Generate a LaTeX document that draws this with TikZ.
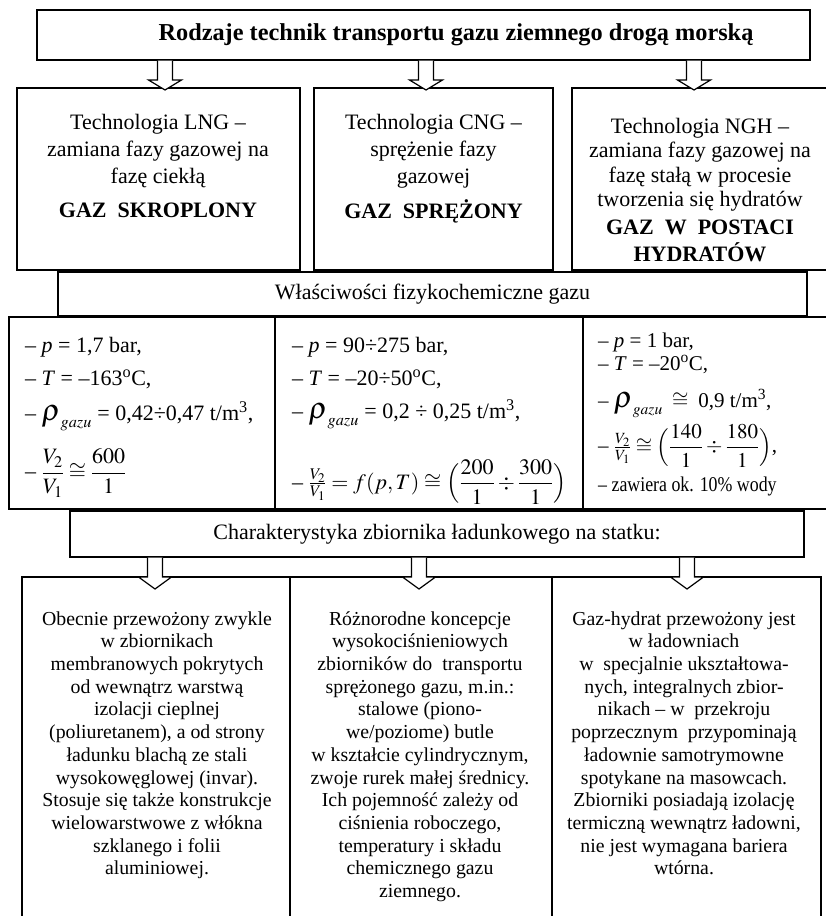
\documentclass[tikz,border=0pt]{standalone}
\usepackage{amsmath}
\usepackage{mathptmx}
\usepackage{graphicx}
\usepackage[no-math]{fontspec}
\setmainfont{Liberation Serif}
\usetikzlibrary{calc}
\newcommand\hollowarrow[5]{%
  \filldraw[blockarrow] let \p1=(#1,0 |- #2.south), \p2=(#1,0 |- #3.north) in
   (\x1-7.5pt,\y1-0.6pt) -- (\x1-7.5pt,\y2-#4pt+#5pt) -- (\x1-16.5pt,\y2-#4pt+#5pt) --
   (\x1,\y2-#4pt) -- (\x1+16.5pt,\y2-#4pt+#5pt) -- (\x1+7.5pt,\y2-#4pt+#5pt) -- (\x1+7.5pt,\y1-0.6pt);}
\newcommand\rhogazu{\text{\fontsize{30}{30}\selectfont$\rho$}_{\mathit{gazu}}}
\begin{document}
\begin{tikzpicture}[x=1pt,y=-1pt,
  frame/.style={draw, line width=1.3pt, inner sep=0pt, outer sep=0pt},
  blockarrow/.style={draw, fill=white, line width=1.2pt, line join=miter},
  toptxt/.style={align=center, inner sep=0pt, anchor=north, font=\fontsize{22}{27}\selectfont},
  toptxtb/.style={align=center, inner sep=0pt, anchor=north, font=\fontsize{22}{24.5}\selectfont},
  boldtxt/.style={align=center, inner sep=0pt, anchor=north, font=\fontsize{22}{25}\bfseries\selectfont},
  prop/.style={anchor=base west, inner sep=0pt, font=\fontsize{22}{26}\selectfont},
  propc/.style={anchor=base west, inner sep=0pt, font=\fontsize{21}{25}\selectfont},
  bottxt/.style={align=center, inner sep=0pt, anchor=north, font=\fontsize{19.8}{22.7}\selectfont}
]
\useasboundingbox (0,0) rectangle (826,916);
\clip (0,0) rectangle (826,916);
\fill[white] (0,0) rectangle (826,916);

% title
\node[frame, minimum width=773pt, minimum height=50pt] (title) at (423.5,35) {};
\node[inner sep=0pt, font=\fontsize{24.3}{28}\bfseries\selectfont] (titlet) at (456,35) {Rodzaje technik transportu gazu ziemnego drogą morską};

% technology boxes
\node[frame, minimum width=283pt, minimum height=182pt] (lng) at (158.5,179) {};
\node[frame, minimum width=239pt, minimum height=182pt] (cng) at (433.5,179) {};
\node[frame, minimum width=258pt, minimum height=182pt] (ngh) at (701,179) {};

\node[toptxt] (lngt) at (158,110) {\strut Technologia LNG –\\zamiana fazy gazowej na\\fazę ciekłą};
\node[boldtxt] (lngb) at (158,199.5) {\strut GAZ\ \ SKROPLONY};
\node[toptxt] (cngt) at (433.5,110) {\strut Technologia CNG –\\sprężenie fazy\\gazowej};
\node[boldtxt] (cngb) at (433.5,199.5) {\strut GAZ\ \ SPRĘŻONY};
\node[toptxtb] (nght) at (700,116) {\strut Technologia NGH –\\zamiana fazy gazowej na\\fazę stałą w procesie\\tworzenia się hydratów};
\node[boldtxt] (nghb) at (700,216.5) {\strut GAZ\ \ W\ \ POSTACI\\HYDRATÓW};

% header
\node[frame, minimum width=749pt, minimum height=44pt, font=\fontsize{22}{26}\selectfont] (prop) at (432.5,294) {Właściwości fizykochemiczne gazu};

% property boxes
\node[frame, minimum width=266pt, minimum height=192pt] (pa) at (142,413) {};
\node[frame, minimum width=308pt, minimum height=192pt] (pb) at (429,413) {};
\node[frame, minimum width=247pt, minimum height=192pt] (pc) at (706.5,413) {};

\node[prop] (pa1) at (25,352) {– \textit{p} = 1,7 bar,};
\node[prop] (pa2) at (25,385) {– \textit{T} = –163\textsuperscript{o}C,};
\node[prop] (pa3) at (25,420) {– $\rhogazu$ = 0,42÷0,47 t/m\textsuperscript{3},};
\node[prop, anchor=west] (pa4) at (25,473) {– $\dfrac{V_2}{V_1}\cong\dfrac{600}{1}$};

\node[prop] (pb1) at (292,352) {– \textit{p} = 90÷275 bar,};
\node[prop] (pb2) at (292,385) {– \textit{T} = –20÷50\textsuperscript{o}C,};
\node[prop] (pb3) at (292,418) {– $\rhogazu$ = 0,2 ÷ 0,25 t/m\textsuperscript{3},};
\node[prop, anchor=west] (pb4) at (292,482) {– $\frac{V_2}{V_1} = f(p,T)\cong\Bigl(\dfrac{200}{1}\div\dfrac{300}{1}\Bigr)$};

\node[propc] (pc1) at (598,347) {– \textit{p} = 1 bar,};
\node[propc] (pc2) at (598,370) {– \textit{T} = –20\textsuperscript{o}C,};
\node[propc] (pc3) at (598,407) {– $\rhogazu \;\cong\;$ 0,9 t/m\textsuperscript{3},};
\node[propc, anchor=west] (pc4) at (598,446) {– $\frac{V_2}{V_1}\cong\Bigl(\dfrac{140}{1}\div\dfrac{180}{1}\Bigr)$,};
\node[propc] (pc5) at (598,491) {\scalebox{0.85}[1]{– zawiera ok. 10\% wody}};

% characteristic header
\node[frame, minimum width=734pt, minimum height=46pt, font=\fontsize{22}{26}\selectfont] (charb) at (437,534) {Charakterystyka zbiornika ładunkowego na statku:};

% bottom boxes
\node[frame, minimum width=268pt, minimum height=353pt] (t1) at (156,753.5) {};
\node[frame, minimum width=262pt, minimum height=353pt] (t2) at (421,753.5) {};
\node[frame, minimum width=269pt, minimum height=353pt] (t3) at (686.5,753.5) {};

\node[bottxt] (t1t) at (157,609) {\strut Obecnie przewożony zwykle\\w zbiornikach\\membranowych pokrytych\\od wewnątrz warstwą\\izolacji cieplnej\\(poliuretanem), a od strony\\ładunku blachą ze stali\\wysokowęglowej (invar).\\Stosuje się także konstrukcje\\wielowarstwowe z włókna\\szklanego i folii\\aluminiowej.};
\node[bottxt] (t2t) at (420,609) {\strut Różnorodne koncepcje\\wysokociśnieniowych\\zbiorników do\ \ transportu\\sprężonego gazu, m.in.:\\stalowe (piono-\\we/poziome) butle\\w kształcie cylindrycznym,\\zwoje rurek małej średnicy.\\Ich pojemność zależy od\\ciśnienia roboczego,\\temperatury i składu\\chemicznego gazu\\ziemnego.};
\node[bottxt] (t3t) at (684,609) {\strut Gaz-hydrat przewożony jest\\w ładowniach\\w\ \ specjalnie ukształtowa-\\nych, integralnych zbior-\\nikach – w\ \ przekroju\\poprzecznym\ \ przypominają\\ładownie samotrymowne\\spotykane na masowcach.\\Zbiorniki posiadają izolację\\termiczną wewnątrz ładowni,\\nie jest wymagana bariera\\wtórna.};

% arrows
\hollowarrow{165}{title}{lng}{2}{10}
\hollowarrow{426}{title}{cng}{2}{10}
\hollowarrow{694}{title}{ngh}{2}{10}
\hollowarrow{155}{charb}{t1}{12}{12}
\hollowarrow{419}{charb}{t2}{12}{12}
\hollowarrow{687}{charb}{t3}{12}{12}
\end{tikzpicture}
\end{document}
